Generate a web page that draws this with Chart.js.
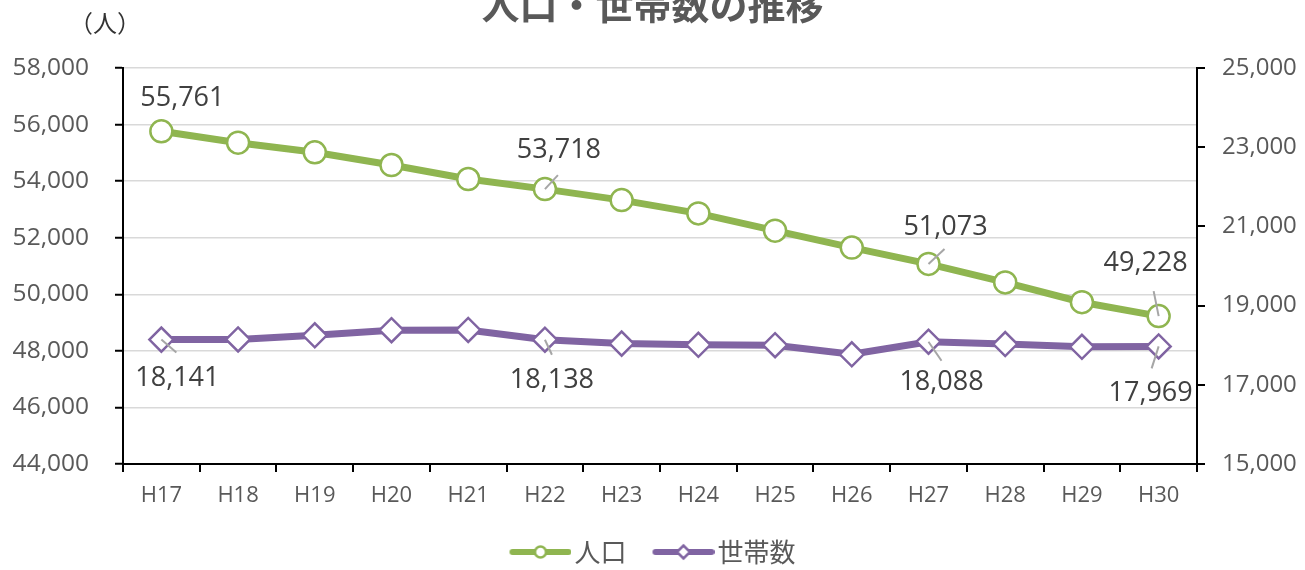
<!DOCTYPE html>
<html>
<head>
<meta charset="utf-8">
<script src="https://cdn.jsdelivr.net/npm/chart.js@4"></script>
<style>
  body { margin: 0; background: #fff; }
</style>
</head>
<body>
<canvas id="chart" width="1305" height="570"></canvas>
<script>
// data
var years = ['H17','H18','H19','H20','H21','H22','H23','H24','H25','H26','H27','H28','H29','H30'];
var population = [55761, 55360, 55020, 54570, 54075, 53718, 53330, 52860, 52250, 51650, 51073, 50420, 49720, 49228];
var households = [18141, 18145, 18250, 18380, 18385, 18138, 18040, 18010, 18000, 17770, 18088, 18030, 17960, 17969];
var seriesNames = ['人口', '世帯数'];
var labelledIdx = [0, 5, 10, 13];
var leftTicks = [44000, 46000, 48000, 50000, 52000, 54000, 56000, 58000];
var rightTicks = [15000, 17000, 19000, 21000, 23000, 25000];

var GREEN = '#8fb550';
var PURPLE = '#8064a2';
var TXT = '#595959';
var NUM_FONT = "'Open Sans', 'Noto Sans', sans-serif";
var CJK_FONT = "'Noto Sans CJK JP', sans-serif";

// label placement relative to point: [dx, dy, leaderDx, leaderDy] (null leader = none)
var popLabelPos = [[21, -33, null, null], [14, -39, 13, -14], [17, -37, 16, -15], [-13, -53, -5, -25]];
var hhLabelPos = [[16, 39, 15, 13], [7, 41, 7, 15], [13, 41, 13, 19], [-8, 47, -7, 22]];

function fmt(v) { return v.toLocaleString('en-US'); }

// legend sample images: line with marker, 10px transparent on the left so the
// visible part starts at the item's x and sits close to the text
function legendSample(color, style) {
  var m = 10;
  var c = document.createElement('canvas');
  c.width = 62 + m; c.height = 24;
  var g = c.getContext('2d');
  g.translate(m, 0);
  g.lineCap = 'round';
  g.strokeStyle = color;
  g.lineWidth = 6;
  g.beginPath();
  g.moveTo(3, 12);
  g.lineTo(59, 12);
  g.stroke();
  g.beginPath();
  if (style === 'circle') {
    g.arc(31, 12, 5.5, 0, Math.PI * 2);
  } else {
    g.moveTo(24.5, 12); g.lineTo(31, 5.5); g.lineTo(37.5, 12); g.lineTo(31, 18.5); g.closePath();
  }
  g.fillStyle = '#fff';
  g.fill();
  g.lineWidth = 2.5;
  g.stroke();
  return c;
}
var legendImgs = [legendSample(GREEN, 'circle'), legendSample(PURPLE, 'diamond')];

var dataLabels = {
  id: 'dataLabels',
  afterDatasetsDraw: function(chart) {
    var ctx = chart.ctx;
    var sets = [[0, population, popLabelPos], [1, households, hhLabelPos]];
    ctx.save();
    sets.forEach(function(s) {
      var meta = chart.getDatasetMeta(s[0]);
      labelledIdx.forEach(function(idx, k) {
        var pt = meta.data[idx];
        var pos = s[2][k];
        if (pos[2] !== null) {
          ctx.strokeStyle = '#a6a6a6';
          ctx.lineWidth = 2;
          ctx.beginPath();
          ctx.moveTo(pt.x, pt.y);
          ctx.lineTo(pt.x + pos[2], pt.y + pos[3]);
          ctx.stroke();
        }
        ctx.fillStyle = '#404040';
        ctx.font = '27px ' + NUM_FONT;
        ctx.textAlign = 'center';
        ctx.textBaseline = 'middle';
        ctx.fillText(fmt(s[1][idx]), pt.x + pos[0], pt.y + pos[1]);
      });
    });
    ctx.restore();
  },
  afterDraw: function(chart) {
    var ctx = chart.ctx;
    ctx.save();
    ctx.fillStyle = '#333';
    ctx.font = '24px ' + CJK_FONT;
    ctx.textAlign = 'center';
    ctx.textBaseline = 'middle';
    ctx.fillText('（人）', 105, 23);
    ctx.restore();
  }
};

new Chart(document.getElementById('chart'), {
  type: 'line',
  data: {
    labels: years,
    datasets: [{
      label: seriesNames[0],
      data: population,
      yAxisID: 'y',
      borderColor: GREEN,
      borderWidth: 7,
      pointRadius: 11,
      pointBorderWidth: 2.5,
      pointBorderColor: GREEN,
      pointBackgroundColor: '#fff',
      tension: 0
    }, {
      label: seriesNames[1],
      data: households,
      yAxisID: 'y1',
      borderColor: PURPLE,
      borderWidth: 7,
      pointStyle: 'rectRot',
      pointRadius: 12,
      pointBorderWidth: 2.5,
      pointBorderColor: PURPLE,
      pointBackgroundColor: '#fff',
      tension: 0
    }]
  },
  options: {
    responsive: false,
    animation: false,
    layout: { padding: { top: 0, bottom: -5, left: 0, right: 0 } },
    plugins: {
      title: {
        display: true,
        text: '人口・世帯数の推移',
        color: TXT,
        font: { size: 38, weight: 'bold', family: CJK_FONT },
        padding: { top: -18, bottom: 40.4 }
      },
      legend: {
        position: 'bottom',
        onClick: null,
        labels: {
          usePointStyle: true,
          pointStyleWidth: 52,
          padding: 26,
          color: TXT,
          font: { size: 26, family: CJK_FONT },
          generateLabels: function(chart) {
            return seriesNames.map(function(n, i) {
              return {
                text: n, pointStyle: legendImgs[i], fontColor: TXT,
                fillStyle: 'rgba(0,0,0,0)', strokeStyle: 'rgba(0,0,0,0)',
                lineWidth: 0, hidden: false, datasetIndex: i
              };
            });
          }
        }
      },
      tooltip: { enabled: false }
    },
    scales: {
      x: {
        offset: true,
        grid: { offset: true, drawOnChartArea: false, color: '#000', lineWidth: 2, tickLength: 8 },
        border: { color: '#000', width: 2 },
        ticks: { color: TXT, font: { size: 22, family: NUM_FONT }, padding: 11, maxRotation: 0, autoSkip: false },
        afterFit: function(s) { s.height = 49; }
      },
      y: {
        position: 'left',
        min: leftTicks[0],
        max: leftTicks[leftTicks.length - 1],
        afterBuildTicks: function(s) { s.ticks = leftTicks.map(function(v) { return { value: v }; }); },
        grid: { color: '#d9d9d9', lineWidth: 1.5, tickColor: '#000', tickWidth: 2, tickLength: 8 },
        border: { color: '#000', width: 2 },
        ticks: { color: TXT, font: { size: 24.5, family: NUM_FONT }, padding: 26, callback: function(v) { return fmt(v); } },
        afterFit: function(s) { s.width = 123; }
      },
      y1: {
        position: 'right',
        min: rightTicks[0],
        max: rightTicks[rightTicks.length - 1],
        afterBuildTicks: function(s) { s.ticks = rightTicks.map(function(v) { return { value: v }; }); },
        grid: { drawOnChartArea: false, color: '#000', lineWidth: 2, tickLength: 8 },
        border: { color: '#000', width: 2 },
        ticks: { color: TXT, font: { size: 24, family: NUM_FONT }, padding: 17, callback: function(v) { return fmt(v); } },
        afterFit: function(s) { s.width = 108; }
      }
    }
  },
  plugins: [dataLabels]
});
</script>
</body>
</html>
